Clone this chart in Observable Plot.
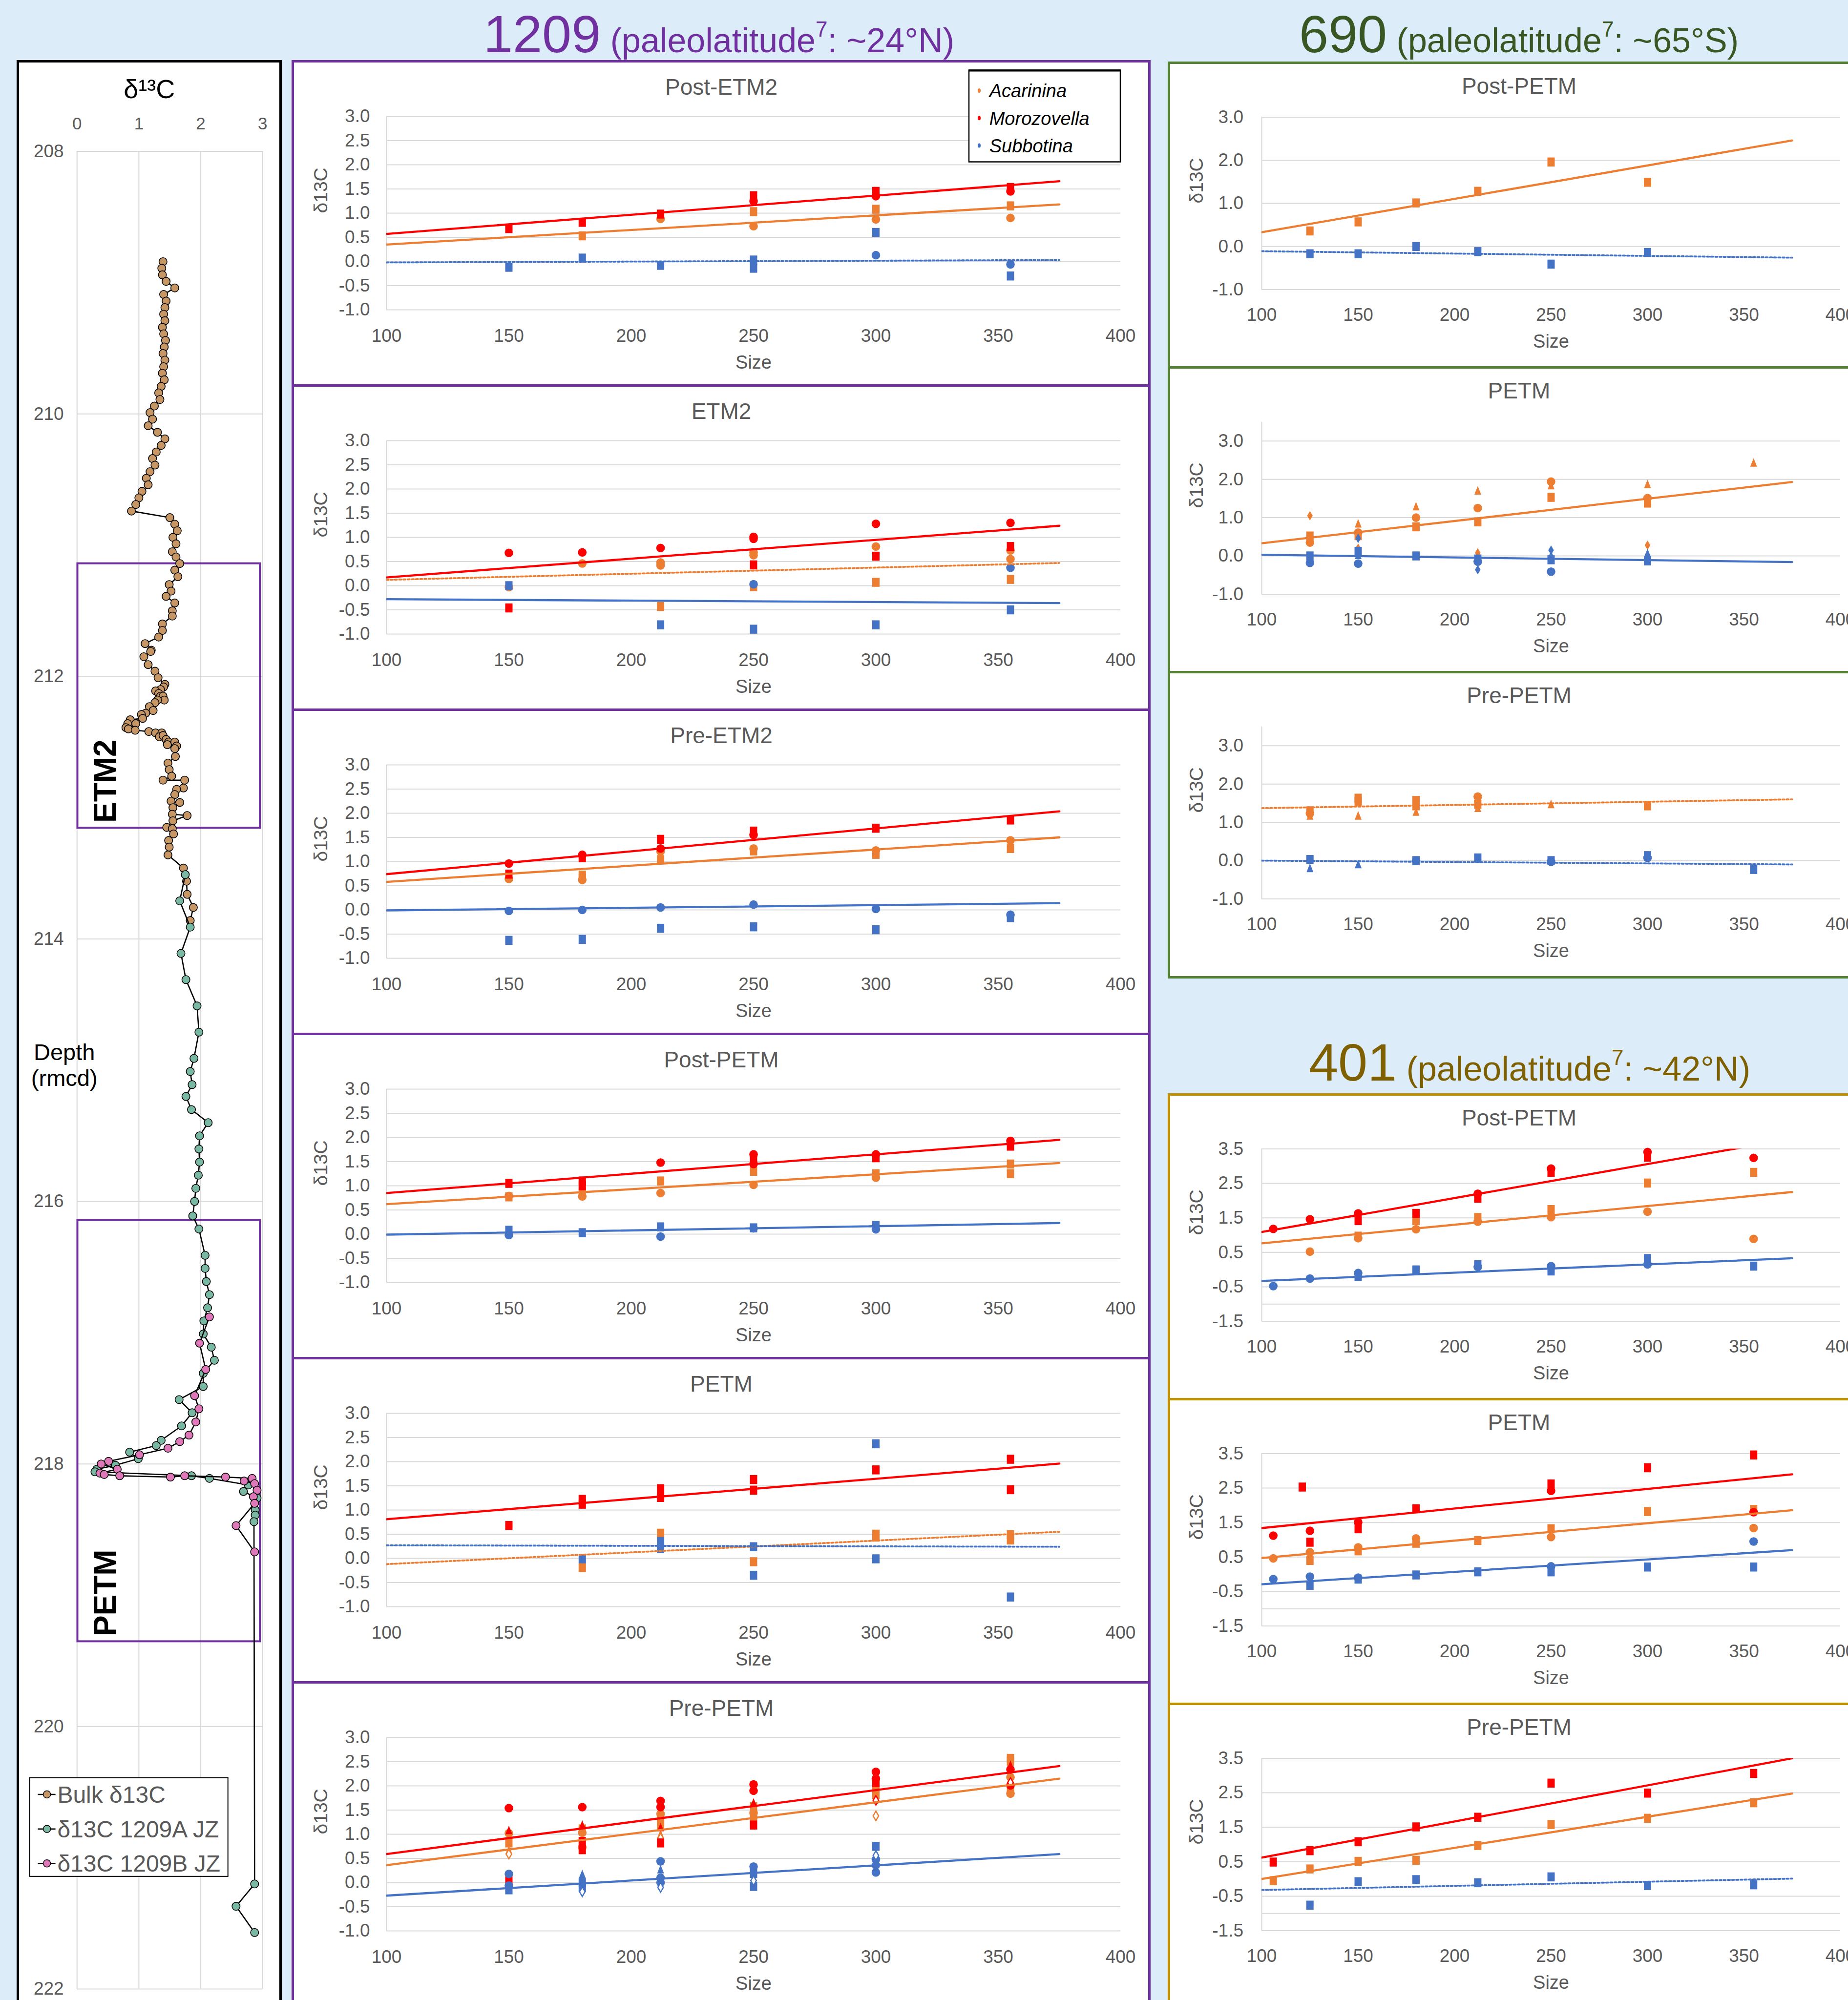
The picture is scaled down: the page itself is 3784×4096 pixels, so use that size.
<!DOCTYPE html>
<html>
<head>
<meta charset="utf-8">
<script src="https://cdn.jsdelivr.net/npm/d3@7"></script>
<script src="https://cdn.jsdelivr.net/npm/@observablehq/plot@0.6"></script>
<style>
  html, body { margin:0; padding:0; }
  body { width:3784px; height:4096px; overflow:hidden; position:relative; background:#ddecf9;
         font-family:"Liberation Sans", Arial, Helvetica, sans-serif; }
  .box { position:absolute; box-sizing:border-box; background:#fff; }
</style>
</head>
<body>
<script>
// ---------------- DATA ----------------
const SPECIES = ["Acarinina", "Morozovella", "Subbotina"];
const SPECIES_COLOR = {Acarinina: "#ed7d31", Morozovella: "#ff0000", Subbotina: "#4472c4"};
const SIZE_TICKS = [100, 150, 200, 250, 300, 350, 400];
const TREND_SPAN = [100, 375];
const Y_TICKS_1209 = [-1, -0.5, 0, 0.5, 1, 1.5, 2, 2.5, 3];
const Y_TICKS_690 = [-1, 0, 1, 2, 3];
const Y_TICKS_401 = [-1.5, -0.5, 0.5, 1.5, 2.5, 3.5];
const Y_GRID_401 = [-1.5, -1, -0.5, 0.5, 1.5, 2.5, 3.5];
const DEPTH_TICKS = [208, 210, 212, 214, 216, 218, 220, 222];
const D13C_TICKS = [0, 1, 2, 3];

// depth profile, Site 1209: [depth (rmcd), d13C]
const bulkD13C = [
 [208.84,1.39],[208.89,1.37],[208.94,1.38],[208.99,1.44],[209.04,1.58],[209.09,1.40],[209.14,1.44],[209.19,1.42],
 [209.24,1.40],[209.29,1.42],[209.34,1.38],[209.39,1.40],[209.44,1.43],[209.49,1.41],[209.54,1.39],[209.59,1.42],
 [209.64,1.40],[209.69,1.38],[209.74,1.41],[209.79,1.36],[209.84,1.32],[209.89,1.34],[209.94,1.25],[209.99,1.18],
 [210.04,1.22],[210.09,1.15],[210.14,1.30],[210.19,1.42],[210.24,1.36],[210.29,1.28],[210.34,1.22],[210.39,1.26],
 [210.44,1.18],[210.49,1.12],[210.54,1.15],[210.59,1.05],[210.64,1.00],[210.69,0.95],[210.74,0.88],[210.79,1.50],
 [210.84,1.58],[210.89,1.62],[210.94,1.55],[210.99,1.60],[211.05,1.54],[211.09,1.60],[211.14,1.66],[211.19,1.58],
 [211.24,1.63],[211.30,1.49],[211.35,1.52],[211.39,1.44],[211.44,1.58],[211.50,1.54],[211.54,1.54],[211.60,1.38],
 [211.65,1.38],[211.70,1.32],[211.75,1.10],[211.80,1.20],[211.81,1.19],[211.85,1.08],[211.91,1.15],[211.96,1.26],
 [212.01,1.31],[212.06,1.42],[212.08,1.40],[212.10,1.35],[212.11,1.27],[212.13,1.32],[212.15,1.35],[212.15,1.39],
 [212.18,1.41],[212.18,1.30],[212.20,1.26],[212.23,1.17],[212.26,1.23],[212.28,1.11],[212.29,1.04],[212.32,1.06],
 [212.33,0.86],[212.36,0.82],[212.39,0.79],[212.40,0.83],[212.36,0.95],[212.41,0.94],[212.42,1.16],[212.43,1.27],
 [212.43,1.37],[212.46,1.33],[212.45,1.39],[212.48,1.44],[212.50,1.48],[212.50,1.58],[212.52,1.46],[212.53,1.61],
 [212.55,1.58],[212.61,1.59],[212.66,1.47],[212.71,1.49],[212.76,1.53],[212.79,1.39],[212.79,1.74],[212.85,1.72],
 [212.86,1.61],[212.90,1.58],[212.95,1.52],[212.96,1.66],[213.00,1.55],[213.05,1.54],[213.06,1.78],[213.10,1.55],
 [213.15,1.45],[213.16,1.54],[213.20,1.56],[213.25,1.48],[213.30,1.49],[213.36,1.47],[213.46,1.72],[213.56,1.77],
 [213.66,1.78],[213.76,1.88],[213.86,1.83]
];
const core1209A = [
 [213.51,1.75],[213.71,1.66],[213.91,1.83],[214.11,1.68],[214.31,1.76],[214.51,1.94],[214.71,1.97],[214.91,1.89],
 [215.01,1.83],[215.11,1.86],[215.20,1.76],[215.30,1.85],[215.40,2.12],[215.50,1.98],[215.60,1.97],[215.70,1.98],
 [215.80,1.96],[215.90,1.92],[216.00,1.90],[216.11,1.87],[216.21,1.97],[216.41,2.07],[216.51,2.07],[216.61,2.09],
 [216.71,2.14],[216.81,2.11],[216.91,2.05],[217.01,2.04],[217.11,2.17],[217.21,2.22],[217.31,2.04],[217.41,2.04],
 [217.51,1.65],[217.61,1.86],[217.71,1.69],[217.82,1.36],[217.86,1.28],[217.91,0.85],[217.96,0.99],[218.01,0.62],
 [218.04,0.32],[218.06,0.29],[218.09,1.85],[218.11,2.14],[218.16,2.77],[218.21,2.69],[218.26,2.91],[218.35,2.88],
 [218.39,2.88],[218.44,2.86],[221.20,2.87],[221.37,2.57],[221.57,2.87]
];
const core1209B = [
 [216.88,2.14],[217.08,1.98],[217.28,2.08],[217.48,1.90],[217.58,1.97],[217.68,1.92],[217.78,1.81],[217.83,1.66],
 [217.88,1.47],[217.93,1.01],[217.98,0.51],[218.00,0.39],[218.04,0.65],[218.07,0.37],[218.08,0.44],[218.09,0.69],
 [218.10,1.51],[218.09,1.74],[218.10,2.40],[218.11,2.83],[218.13,2.70],[218.15,2.87],[218.20,2.91],[218.25,2.85],
 [218.30,2.87],[218.47,2.57],[218.67,2.87]
];
const eventBoxes = [
 {label: "ETM2", top: 211.14, bottom: 213.155, x0: 0.01, x1: 2.96},
 {label: "PETM", top: 216.143, bottom: 219.353, x0: 0.01, x1: 2.96}
];

// size-fraction data: [species, marker, size (µm), d13C]; trends: [species, value at 100, value at 375, style]
const s1209_PostETM2 = [
 ["Acarinina","square",180,0.53],["Acarinina","circle",212,0.88],["Acarinina","square",250,1.03],["Acarinina","circle",250,0.73],
 ["Acarinina","square",300,1.08],["Acarinina","circle",300,0.87],["Acarinina","square",355,1.15],["Acarinina","circle",355,0.90],
 ["Morozovella","square",150,0.68],["Morozovella","square",180,0.81],["Morozovella","square",212,0.98],["Morozovella","square",250,1.36],
 ["Morozovella","circle",250,1.25],["Morozovella","square",300,1.45],["Morozovella","circle",300,1.35],["Morozovella","square",355,1.53],
 ["Morozovella","circle",355,1.45],
 ["Subbotina","square",150,-0.12],["Subbotina","square",180,0.07],["Subbotina","square",212,-0.08],["Subbotina","square",250,0.03],
 ["Subbotina","square",250,-0.14],["Subbotina","square",300,0.60],["Subbotina","circle",300,0.13],["Subbotina","circle",355,-0.06],
 ["Subbotina","square",355,-0.30]
];
const s1209_PostETM2_trend = [["Morozovella",0.57,1.66,"solid"],["Acarinina",0.35,1.18,"solid"],["Subbotina",-0.02,0.03,"dotted"]];

const s1209_ETM2 = [
 ["Acarinina","circle",150,-0.03],["Acarinina","circle",180,0.46],["Acarinina","circle",212,0.48],["Acarinina","circle",212,0.42],
 ["Acarinina","square",212,-0.43],["Acarinina","circle",250,0.69],["Acarinina","circle",250,0.63],["Acarinina","square",250,-0.02],
 ["Acarinina","circle",300,0.81],["Acarinina","square",300,0.07],["Acarinina","circle",355,0.73],["Acarinina","circle",355,0.55],
 ["Acarinina","square",355,0.13],
 ["Morozovella","circle",150,0.68],["Morozovella","square",150,-0.46],["Morozovella","circle",180,0.69],["Morozovella","circle",212,0.78],
 ["Morozovella","circle",250,1.01],["Morozovella","circle",250,0.97],["Morozovella","square",250,0.43],["Morozovella","circle",300,1.28],
 ["Morozovella","square",300,0.61],["Morozovella","circle",355,1.30],["Morozovella","square",355,0.81],
 ["Subbotina","square",150,0.00],["Subbotina","square",212,-0.81],["Subbotina","circle",250,0.03],["Subbotina","square",250,-0.90],
 ["Subbotina","square",300,-0.81],["Subbotina","circle",355,0.37],["Subbotina","square",355,-0.50]
];
const s1209_ETM2_trend = [["Morozovella",0.17,1.24,"solid"],["Acarinina",0.12,0.47,"dotted"],["Subbotina",-0.28,-0.36,"solid"]];

const s1209_PreETM2 = [
 ["Acarinina","circle",150,0.64],["Acarinina","square",180,0.72],["Acarinina","square",180,0.66],["Acarinina","circle",180,0.62],
 ["Acarinina","circle",212,1.21],["Acarinina","square",212,1.04],["Acarinina","circle",250,1.27],["Acarinina","square",250,1.22],
 ["Acarinina","circle",300,1.23],["Acarinina","square",300,1.15],["Acarinina","circle",355,1.44],["Acarinina","square",355,1.27],
 ["Morozovella","circle",150,0.96],["Morozovella","square",150,0.74],["Morozovella","circle",180,1.14],["Morozovella","square",180,1.08],
 ["Morozovella","square",212,1.46],["Morozovella","circle",212,1.27],["Morozovella","square",250,1.63],["Morozovella","circle",250,1.55],
 ["Morozovella","square",300,1.69],["Morozovella","square",355,1.86],
 ["Subbotina","circle",150,-0.02],["Subbotina","square",150,-0.63],["Subbotina","circle",180,0.00],["Subbotina","square",180,-0.61],
 ["Subbotina","circle",212,0.05],["Subbotina","square",212,-0.38],["Subbotina","circle",250,0.11],["Subbotina","square",250,-0.35],
 ["Subbotina","circle",300,0.02],["Subbotina","square",300,-0.41],["Subbotina","circle",355,-0.10],["Subbotina","square",355,-0.16]
];
const s1209_PreETM2_trend = [["Morozovella",0.74,2.04,"solid"],["Acarinina",0.58,1.50,"solid"],["Subbotina",-0.01,0.14,"solid"]];

const s1209_PostPETM = [
 ["Acarinina","circle",150,0.79],["Acarinina","square",150,0.77],["Acarinina","circle",180,0.78],["Acarinina","square",180,0.88],
 ["Acarinina","square",212,1.10],["Acarinina","circle",212,0.85],["Acarinina","square",250,1.30],["Acarinina","circle",250,1.02],
 ["Acarinina","square",300,1.25],["Acarinina","circle",300,1.17],["Acarinina","square",355,1.45],["Acarinina","square",355,1.25],
 ["Morozovella","square",150,1.05],["Morozovella","square",180,1.10],["Morozovella","square",180,1.00],["Morozovella","circle",212,1.48],
 ["Morozovella","circle",250,1.65],["Morozovella","square",250,1.55],["Morozovella","circle",250,1.45],["Morozovella","circle",300,1.65],
 ["Morozovella","square",300,1.58],["Morozovella","circle",355,1.93],["Morozovella","square",355,1.82],
 ["Subbotina","square",150,0.08],["Subbotina","circle",150,-0.02],["Subbotina","square",180,0.03],["Subbotina","square",212,0.15],
 ["Subbotina","circle",212,-0.05],["Subbotina","square",250,0.13],["Subbotina","circle",250,0.12],["Subbotina","square",300,0.18],
 ["Subbotina","circle",300,0.10]
];
const s1209_PostPETM_trend = [["Morozovella",0.85,1.95,"solid"],["Acarinina",0.62,1.47,"solid"],["Subbotina",-0.01,0.23,"solid"]];

const s1209_PETM = [
 ["Acarinina","square",180,-0.19],["Acarinina","square",212,0.52],["Acarinina","square",250,-0.07],["Acarinina","square",300,0.50],
 ["Acarinina","square",300,0.44],["Acarinina","square",355,0.49],["Acarinina","square",355,0.38],
 ["Morozovella","square",150,0.68],["Morozovella","square",180,1.22],["Morozovella","square",180,1.12],["Morozovella","square",212,1.44],
 ["Morozovella","square",212,1.26],["Morozovella","square",250,1.63],["Morozovella","square",250,1.41],["Morozovella","square",300,1.83],
 ["Morozovella","square",355,2.05],["Morozovella","square",355,1.42],
 ["Subbotina","square",180,-0.01],["Subbotina","square",212,0.35],["Subbotina","square",212,0.20],["Subbotina","square",250,0.24],
 ["Subbotina","square",250,-0.35],["Subbotina","square",300,2.37],["Subbotina","square",300,-0.01],["Subbotina","square",355,-0.80]
];
const s1209_PETM_trend = [["Morozovella",0.81,1.96,"solid"],["Acarinina",-0.12,0.55,"dotted"],["Subbotina",0.27,0.24,"dotted"]];

const s1209_PrePETM = [
 ["Acarinina","circle",150,1.02],["Acarinina","square",150,0.82],["Acarinina","triangle",150,0.67],["Acarinina","hdiamond",150,0.59],
 ["Acarinina","square",180,1.11],["Acarinina","circle",180,1.03],["Acarinina","circle",180,0.73],
 ["Acarinina","circle",212,1.42],["Acarinina","square",212,1.28],["Acarinina","square",212,1.19],["Acarinina","triangle",212,1.00],
 ["Acarinina","hdiamond",212,0.92],["Acarinina","square",250,1.57],["Acarinina","circle",250,1.44],["Acarinina","square",250,1.36],
 ["Acarinina","square",300,1.99],["Acarinina","square",300,1.82],["Acarinina","triangle",300,1.72],["Acarinina","hdiamond",300,1.38],
 ["Acarinina","square",355,2.57],["Acarinina","square",355,2.51],["Acarinina","circle",355,2.18],["Acarinina","square",355,1.90],
 ["Acarinina","circle",355,1.84],
 ["Morozovella","circle",150,1.54],["Morozovella","triangle",150,1.08],["Morozovella","square",150,0.04],
 ["Morozovella","circle",180,1.56],["Morozovella","triangle",180,1.19],["Morozovella","square",180,0.85],["Morozovella","square",180,0.68],
 ["Morozovella","circle",212,1.69],["Morozovella","circle",212,1.56],["Morozovella","triangle",212,1.14],["Morozovella","square",212,0.82],
 ["Morozovella","circle",250,2.03],["Morozovella","circle",250,1.90],["Morozovella","triangle",250,1.65],["Morozovella","square",250,1.19],
 ["Morozovella","circle",300,2.29],["Morozovella","circle",300,2.15],["Morozovella","square",300,2.07],["Morozovella","hdiamond",300,1.70],
 ["Morozovella","triangle",355,2.43],["Morozovella","circle",355,2.34],["Morozovella","hdiamond",355,2.07],["Morozovella","circle",355,2.01],
 ["Subbotina","circle",150,0.18],["Subbotina","circle",150,-0.06],["Subbotina","square",150,-0.15],
 ["Subbotina","triangle",180,0.17],["Subbotina","square",180,0.00],["Subbotina","square",180,-0.10],["Subbotina","hdiamond",180,-0.19],
 ["Subbotina","circle",212,0.44],["Subbotina","triangle",212,0.27],["Subbotina","circle",212,0.10],["Subbotina","circle",212,0.00],
 ["Subbotina","hdiamond",212,-0.10],["Subbotina","circle",250,0.33],["Subbotina","square",250,0.19],["Subbotina","hdiamond",250,0.04],
 ["Subbotina","square",250,-0.08],["Subbotina","square",300,0.75],["Subbotina","hdiamond",300,0.56],["Subbotina","circle",300,0.48],
 ["Subbotina","circle",300,0.36],["Subbotina","circle",300,0.21]
];
const s1209_PrePETM_trend = [["Morozovella",0.59,2.41,"solid"],["Acarinina",0.36,2.15,"solid"],["Subbotina",-0.27,0.59,"solid"]];

const s690_PostPETM = [
 ["Acarinina","square",125,0.36],["Acarinina","square",150,0.57],["Acarinina","square",180,1.01],["Acarinina","square",212,1.28],
 ["Acarinina","square",250,1.96],["Acarinina","square",300,1.49],
 ["Subbotina","square",125,-0.17],["Subbotina","square",150,-0.17],["Subbotina","square",180,0.00],["Subbotina","square",212,-0.12],
 ["Subbotina","square",250,-0.41],["Subbotina","square",300,-0.14]
];
const s690_PostPETM_trend = [["Acarinina",0.33,2.46,"solid"],["Subbotina",-0.11,-0.26,"dotted"]];

const s690_PETM = [
 ["Acarinina","diamond",125,1.05],["Acarinina","square",125,0.52],["Acarinina","circle",125,0.35],
 ["Acarinina","triangle",150,0.84],["Acarinina","circle",150,0.61],["Acarinina","square",150,0.53],["Acarinina","diamond",150,0.20],
 ["Acarinina","triangle",180,1.29],["Acarinina","circle",180,1.00],["Acarinina","square",180,0.76],
 ["Acarinina","triangle",212,1.70],["Acarinina","circle",212,1.25],["Acarinina","square",212,0.89],["Acarinina","diamond",212,0.08],
 ["Acarinina","circle",250,1.94],["Acarinina","triangle",250,1.84],["Acarinina","square",250,1.53],["Acarinina","diamond",250,-0.10],
 ["Acarinina","triangle",300,1.87],["Acarinina","circle",300,1.51],["Acarinina","square",300,1.38],["Acarinina","diamond",300,0.28],
 ["Acarinina","triangle",355,2.43],
 ["Subbotina","square",125,0.00],["Subbotina","circle",125,-0.18],["Subbotina","diamond",150,0.46],["Subbotina","square",150,0.12],
 ["Subbotina","triangle",150,0.02],["Subbotina","circle",150,-0.20],["Subbotina","square",180,0.00],["Subbotina","square",212,-0.08],
 ["Subbotina","circle",212,-0.15],["Subbotina","diamond",212,-0.36],["Subbotina","diamond",250,0.15],["Subbotina","triangle",250,0.02],
 ["Subbotina","square",250,-0.10],["Subbotina","circle",250,-0.41],["Subbotina","triangle",300,0.07],["Subbotina","square",300,-0.13]
];
const s690_PETM_trend = [["Acarinina",0.33,1.93,"solid"],["Subbotina",0.03,-0.16,"solid"]];

const s690_PrePETM = [
 ["Acarinina","square",125,1.30],["Acarinina","circle",125,1.23],["Acarinina","triangle",125,1.17],
 ["Acarinina","square",150,1.63],["Acarinina","square",150,1.55],["Acarinina","triangle",150,1.17],
 ["Acarinina","square",180,1.57],["Acarinina","square",180,1.43],["Acarinina","triangle",180,1.27],
 ["Acarinina","circle",212,1.67],["Acarinina","square",212,1.47],["Acarinina","triangle",212,1.37],
 ["Acarinina","triangle",250,1.47],["Acarinina","square",300,1.43],
 ["Subbotina","square",125,0.03],["Subbotina","triangle",125,-0.20],["Subbotina","triangle",150,-0.10],["Subbotina","square",180,0.00],
 ["Subbotina","circle",180,0.00],["Subbotina","square",212,0.07],["Subbotina","square",250,0.00],["Subbotina","circle",250,-0.03],
 ["Subbotina","square",300,0.13],["Subbotina","circle",300,0.07],["Subbotina","square",355,-0.23]
];
const s690_PrePETM_trend = [["Acarinina",1.37,1.60,"dotted"],["Subbotina",0.00,-0.10,"dotted"]];

const s401_PostPETM = [
 ["Acarinina","circle",125,0.52],["Acarinina","square",150,0.97],["Acarinina","circle",150,0.91],["Acarinina","square",180,1.42],
 ["Acarinina","circle",180,1.17],["Acarinina","square",212,1.51],["Acarinina","circle",212,1.39],["Acarinina","square",250,1.74],
 ["Acarinina","circle",250,1.52],["Acarinina","square",300,2.51],["Acarinina","circle",300,1.68],["Acarinina","square",355,2.82],
 ["Acarinina","circle",355,0.89],
 ["Morozovella","circle",106,1.18],["Morozovella","circle",125,1.46],["Morozovella","circle",150,1.63],["Morozovella","square",150,1.42],
 ["Morozovella","square",180,1.63],["Morozovella","circle",212,2.20],["Morozovella","square",212,2.07],["Morozovella","circle",250,2.93],
 ["Morozovella","square",250,2.82],["Morozovella","circle",300,3.41],["Morozovella","square",300,3.26],["Morozovella","circle",355,3.24],
 ["Subbotina","circle",106,-0.48],["Subbotina","circle",125,-0.26],["Subbotina","circle",150,-0.10],["Subbotina","square",150,-0.20],
 ["Subbotina","square",180,-0.01],["Subbotina","square",212,0.14],["Subbotina","circle",212,0.08],["Subbotina","circle",250,0.10],
 ["Subbotina","square",250,-0.04],["Subbotina","square",300,0.32],["Subbotina","circle",300,0.15],["Subbotina","square",355,0.10]
];
const s401_PostPETM_trend = [["Morozovella",1.09,3.80,"solid"],["Acarinina",0.76,2.25,"solid"],["Subbotina",-0.33,0.33,"solid"]];

const s401_PETM = [
 ["Acarinina","circle",106,0.46],["Acarinina","circle",125,0.64],["Acarinina","square",125,0.40],["Acarinina","circle",150,0.78],
 ["Acarinina","square",150,0.68],["Acarinina","circle",180,1.04],["Acarinina","square",180,0.90],["Acarinina","square",212,0.98],
 ["Acarinina","square",250,1.32],["Acarinina","circle",250,1.08],["Acarinina","square",300,1.82],["Acarinina","square",355,1.88],
 ["Acarinina","circle",355,1.34],
 ["Morozovella","circle",106,1.12],["Morozovella","square",121,2.53],["Morozovella","circle",125,1.26],["Morozovella","square",125,0.93],
 ["Morozovella","circle",150,1.51],["Morozovella","square",150,1.32],["Morozovella","square",180,1.90],["Morozovella","square",250,2.62],
 ["Morozovella","circle",250,2.42],["Morozovella","square",300,3.09],["Morozovella","square",355,3.46],["Morozovella","circle",355,1.80],
 ["Subbotina","circle",106,-0.14],["Subbotina","circle",125,-0.07],["Subbotina","square",125,-0.32],["Subbotina","circle",150,-0.10],
 ["Subbotina","square",150,-0.14],["Subbotina","square",180,-0.02],["Subbotina","square",212,0.07],["Subbotina","circle",250,0.23],
 ["Subbotina","square",250,0.07],["Subbotina","square",300,0.21],["Subbotina","circle",355,0.95],["Subbotina","square",355,0.21]
];
const s401_PETM_trend = [["Morozovella",1.34,2.90,"solid"],["Acarinina",0.47,1.86,"solid"],["Subbotina",-0.29,0.70,"solid"]];

const s401_PrePETM = [
 ["Acarinina","square",106,-0.05],["Acarinina","square",125,0.29],["Acarinina","square",150,0.51],["Acarinina","square",180,0.54],
 ["Acarinina","square",212,0.97],["Acarinina","square",250,1.58],["Acarinina","square",300,1.76],["Acarinina","square",355,2.21],
 ["Morozovella","square",106,0.49],["Morozovella","square",125,0.82],["Morozovella","square",150,1.08],["Morozovella","square",180,1.51],
 ["Morozovella","square",212,1.79],["Morozovella","square",250,2.78],["Morozovella","square",300,2.49],["Morozovella","square",355,3.06],
 ["Subbotina","square",125,-0.76],["Subbotina","square",150,-0.08],["Subbotina","square",180,-0.02],["Subbotina","square",212,-0.11],
 ["Subbotina","square",250,0.06],["Subbotina","square",300,-0.19],["Subbotina","square",355,-0.17]
];
const s401_PrePETM_trend = [["Morozovella",0.62,3.50,"solid"],["Acarinina",0.00,2.48,"solid"],["Subbotina",-0.32,0.01,"dotted"]];

// ---------------- RENDERING ----------------
const FONT = '"Liberation Sans", Arial, Helvetica, sans-serif';
const GREY = "#595959";
const GRID = "#d9d9d9";

function rOf(s) { return Math.sqrt(s / Math.PI); }
const SHAPES = {
  square:   {draw(c, s) { const r = rOf(s), w = 0.85 * r, h = 1.05 * r; c.moveTo(-w, -h); c.lineTo(w, -h); c.lineTo(w, h); c.lineTo(-w, h); c.closePath(); }},
  circle:   {draw(c, s) { const r = rOf(s); c.moveTo(r, 0); c.arc(0, 0, r, 0, 2 * Math.PI); }},
  triangle: {draw(c, s) { const r = rOf(s); c.moveTo(0, -1.1 * r); c.lineTo(0.8 * r, 0.9 * r); c.lineTo(-0.8 * r, 0.9 * r); c.closePath(); }},
  diamond:  {draw(c, s) { const r = rOf(s); c.moveTo(0, -1.1 * r); c.lineTo(0.65 * r, 0); c.lineTo(0, 1.1 * r); c.lineTo(-0.65 * r, 0); c.closePath(); }}
};
SHAPES.hdiamond = SHAPES.diamond;

const MID = {width: 1759, height: 670, ml: 194, mr: 62, mt: 115, mb: 670 - 511, titleDy: -45, sizeDy: 120, ylabDx: -122, tpx: 39, tpy: 34};
const RIGHT = {width: 1438, height: 630, ml: 192, mr: 61, mt: 113.5, mb: 630 - 466.5, titleDy: -48.5, sizeDy: 118.5, ylabDx: -121, tpx: 38, tpy: 37.5};

const Y1209 = {domain: [-1, 3], ticks: Y_TICKS_1209, grid: Y_TICKS_1209};
const Y690a = {domain: [-1, 3], ticks: Y_TICKS_690, grid: Y_TICKS_690};
const Y690b = {domain: [-1, 3.5], ticks: Y_TICKS_690, grid: Y_TICKS_690};
const Y401 = {domain: [-1.5, 3.5], ticks: Y_TICKS_401, grid: Y_GRID_401};

function addBox(left, top, width, height, border, color) {
  const d = document.createElement("div");
  d.className = "box";
  Object.assign(d.style, {left: left + "px", top: top + "px", width: width + "px", height: height + "px", border: `${border}px solid ${color}`});
  document.body.appendChild(d);
}

function scatterPanel(title, data, trends, L, Y, left, top, color) {
  addBox(left, top, L.width, L.height, 5.5, color);
  const pts = data.map(([sp, shape, size, v]) => ({sp, shape, size, v}));
  const marks = [
    Plot.ruleY(Y.grid, {stroke: GRID, strokeWidth: 2}),
    Plot.ruleX([100], {stroke: GRID, strokeWidth: 2}),
    Plot.axisX({ticks: SIZE_TICKS, tickSize: 0, tickPadding: L.tpx, tickFormat: d => String(d)}),
    Plot.axisY({ticks: Y.ticks, tickSize: 0, tickPadding: L.tpy, tickFormat: d => d.toFixed(1)})
  ];
  for (const sp of SPECIES) {
    for (const shape of Object.keys(SHAPES)) {
      const sub = pts.filter(d => d.sp === sp && d.shape === shape);
      if (!sub.length) continue;
      const hollow = shape === "hdiamond";
      marks.push(Plot.dot(sub, {x: "size", y: "v", r: 8.8, symbol: SHAPES[shape],
        fill: hollow ? "#ffffff" : SPECIES_COLOR[sp], stroke: hollow ? SPECIES_COLOR[sp] : "none", strokeWidth: hollow ? 2.5 : 0}));
    }
  }
  for (const [sp, y0, y1, style] of trends) {
    const opts = {x: "x", y: "y", stroke: SPECIES_COLOR[sp], strokeWidth: style === "dotted" ? 3.8 : 4.3, clip: true};
    if (style === "dotted") opts.strokeDasharray = "4.3,4.3";
    marks.push(Plot.line([{x: TREND_SPAN[0], y: y0}, {x: TREND_SPAN[1], y: y1}], opts));
  }
  const frameCenter = (L.ml + L.width - L.mr) / 2;
  marks.push(Plot.text([title], {text: d => d, frameAnchor: "top", lineAnchor: "bottom", dy: L.titleDy, dx: L.width / 2 - frameCenter, fontSize: 46, fill: GREY}));
  marks.push(Plot.text(["Size"], {text: d => d, frameAnchor: "bottom", lineAnchor: "bottom", dy: L.sizeDy, fontSize: 38, fill: GREY}));
  marks.push(Plot.text(["δ13C"], {text: d => d, frameAnchor: "left", lineAnchor: "bottom", rotate: -90, dx: L.ylabDx, fontSize: 39, fill: GREY}));
  const svg = Plot.plot({
    width: L.width, height: L.height, marginLeft: L.ml, marginRight: L.mr, marginTop: L.mt, marginBottom: L.mb,
    x: {domain: [100, 400], label: null}, y: {domain: Y.domain, label: null},
    style: {background: "transparent", color: GREY, fontFamily: FONT, fontSize: "37px", overflow: "visible"},
    marks
  });
  Object.assign(svg.style, {position: "absolute", left: left + "px", top: top + "px"});
  document.body.appendChild(svg);
}

// ---- depth profile panel ----
addBox(34.3, 123, 542.5, 4100, 5.6, "#000");
{
  const marks = [
    Plot.ruleX(D13C_TICKS, {stroke: GRID, strokeWidth: 2}),
    Plot.ruleY(DEPTH_TICKS, {stroke: GRID, strokeWidth: 2}),
    Plot.axisX({anchor: "top", ticks: D13C_TICKS, tickSize: 0, tickPadding: 45, tickFormat: d => String(d), fontSize: 35}),
    Plot.axisY({ticks: DEPTH_TICKS, tickSize: 0, tickPadding: 27, tickFormat: d => String(d)}),
    Plot.rect(eventBoxes, {x1: "x0", x2: "x1", y1: "top", y2: "bottom", fill: "none", stroke: "#7030a0", strokeWidth: 4}),
    Plot.text(eventBoxes, {text: "label", x: 0.627, y: d => d.bottom - 0.04, rotate: -90, textAnchor: "start", lineAnchor: "bottom",
      fontSize: 64, fontWeight: "bold", fill: "#000"})
  ];
  for (const [arr, fill] of [[bulkD13C, "#c69664"], [core1209A, "#79b8a3"], [core1209B, "#de78b9"]]) {
    marks.push(Plot.line(arr, {x: d => d[1], y: d => d[0], stroke: "#000", strokeWidth: 2.6}));
    marks.push(Plot.dot(arr, {x: d => d[1], y: d => d[0], r: 8.2, fill, stroke: "#000", strokeWidth: 1.6}));
  }
  marks.push(Plot.text(["δ¹³C"], {text: d => d, frameAnchor: "top", lineAnchor: "bottom", dx: -42, dy: -109.6, fontSize: 54, fill: "#000"}));
  marks.push(Plot.text(["Depth\n(rmcd)"], {text: d => d, frameAnchor: "top-left", textAnchor: "middle", lineAnchor: "bottom",
    dx: -26, dy: 1914, fontSize: 47, lineHeight: 1.12, fill: "#000"}));
  const svg = Plot.plot({
    width: 543, height: 3973, marginLeft: 123.2, marginRight: 39.7, marginTop: 186.6, marginBottom: 23.1,
    x: {domain: [0, 3], label: null}, y: {domain: [208, 222], reverse: true, label: null},
    style: {background: "transparent", color: GREY, fontFamily: FONT, fontSize: "37px", overflow: "visible"},
    marks
  });
  Object.assign(svg.style, {position: "absolute", left: "34px", top: "123px"});
  document.body.appendChild(svg);
}

// ---- site 1209 size panels ----
const panels1209 = [
  ["Post-ETM2", s1209_PostETM2, s1209_PostETM2_trend],
  ["ETM2", s1209_ETM2, s1209_ETM2_trend],
  ["Pre-ETM2", s1209_PreETM2, s1209_PreETM2_trend],
  ["Post-PETM", s1209_PostPETM, s1209_PostPETM_trend],
  ["PETM", s1209_PETM, s1209_PETM_trend],
  ["Pre-PETM", s1209_PrePETM, s1209_PrePETM_trend]
];
panels1209.forEach(([t, d, tr], i) => scatterPanel(t, d, tr, MID, Y1209, 597, 123 + 664 * i, "#7030a0"));

const panels690 = [
  ["Post-PETM", s690_PostPETM, s690_PostPETM_trend, Y690a],
  ["PETM", s690_PETM, s690_PETM_trend, Y690b],
  ["Pre-PETM", s690_PrePETM, s690_PrePETM_trend, Y690b]
];
panels690.forEach(([t, d, tr, Y], i) => scatterPanel(t, d, tr, RIGHT, Y, 2391, 126 + 624 * i, "#548235"));

const panels401 = [
  ["Post-PETM", s401_PostPETM, s401_PostPETM_trend],
  ["PETM", s401_PETM, s401_PETM_trend],
  ["Pre-PETM", s401_PrePETM, s401_PrePETM_trend]
];
panels401.forEach(([t, d, tr], i) => scatterPanel(t, d, tr, RIGHT, Y401, 2391, 2239 + 624 * i, "#bf9000"));

// ---- titles and legends (overlay) ----
const siteTitles = [
  {site: "1209", lat: "~24°N", cx: 1472, base: 107, color: "#7030a0"},
  {site: "690", lat: "~65°S", cx: 3110, base: 107, color: "#385723"},
  {site: "401", lat: "~42°N", cx: 3132, base: 2213, color: "#7f6000"}
];
const depthLegend = [["Bulk δ13C", "#c69664"], ["δ13C 1209A JZ", "#79b8a3"], ["δ13C 1209B JZ", "#de78b9"]];

let ov = `<svg xmlns="http://www.w3.org/2000/svg" width="3784" height="4096" style="position:absolute;left:0;top:0" font-family='${FONT}'>`;
for (const t of siteTitles) {
  ov += `<text x="${t.cx}" y="${t.base}" text-anchor="middle" fill="${t.color}"><tspan font-size="108">${t.site}</tspan><tspan font-size="70"> (paleolatitude</tspan><tspan font-size="44" dy="-32">7</tspan><tspan font-size="70" dy="32">: ${t.lat})</tspan></text>`;
}
// species legend in Post-ETM2 panel
ov += `<rect x="1984" y="143.5" width="310" height="188" fill="#fff" stroke="#000" stroke-width="2.5"/>`;
ov += `<line x1="1984" x2="2294" y1="144.5" y2="144.5" stroke="#000" stroke-width="4"/>`;
SPECIES.forEach((sp, i) => {
  const base = 199.4 + i * 56.3;
  ov += `<ellipse cx="2005" cy="${base - 14}" rx="3" ry="4.5" fill="${SPECIES_COLOR[sp]}"/>`;
  ov += `<text x="2025.7" y="${base}" font-size="38" font-style="italic" fill="#000">${sp}</text>`;
});
// depth legend
ov += `<rect x="60.7" y="3640.8" width="406" height="202" fill="#fff" stroke="#000" stroke-width="2"/>`;
depthLegend.forEach(([label, col], i) => {
  const base = 3692 + i * 70.65, cy = base - 17;
  ov += `<line x1="77.5" x2="113.6" y1="${cy}" y2="${cy}" stroke="#000" stroke-width="2.5"/>`;
  ov += `<circle cx="96.1" cy="${cy}" r="7.5" fill="${col}" stroke="#000" stroke-width="1.5"/>`;
  ov += `<text x="117.4" y="${base}" font-size="48" fill="${GREY}">${label}</text>`;
});
ov += `</svg>`;
document.body.insertAdjacentHTML("beforeend", ov);
</script>
</body>
</html>
